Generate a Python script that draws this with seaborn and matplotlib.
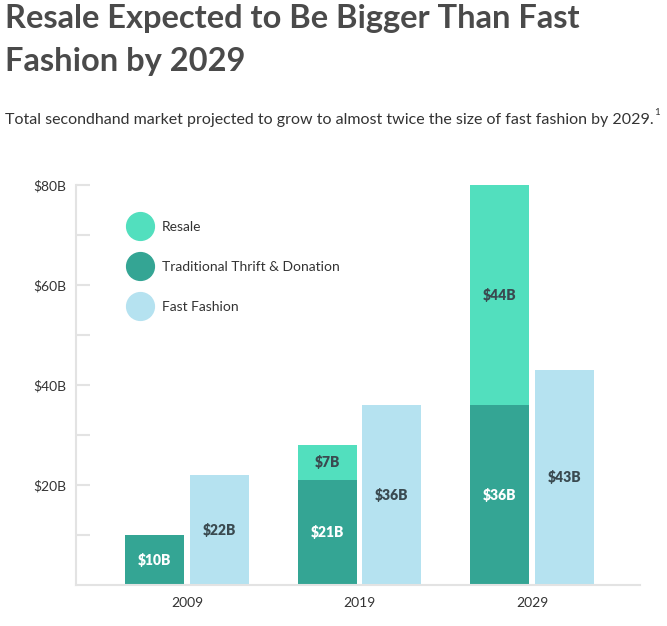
import numpy as np
import pandas as pd
import seaborn as sns
from matplotlib import pyplot as plt
from matplotlib.lines import Line2D
from matplotlib.ticker import FixedLocator, FuncFormatter

# values, in $B
years = ["2009", "2019", "2029"]
thrift = [10, 21, 36]
resale = [0, 7, 44]
fast_fashion = [22, 36, 43]
series_names = ["Resale", "Traditional Thrift & Donation", "Fast Fashion"]
series_colors = ["#52dfbe", "#34a594", "#b5e2f0"]

sns.set_style("white")
plt.rcParams["font.family"] = ["Lato", "DejaVu Sans"]

secondhand = [t + r for t, r in zip(thrift, resale)]
df_total = pd.DataFrame({
    "year": years * 2,
    "kind": ["secondhand"] * 3 + ["fast"] * 3,
    "value": secondhand + fast_fashion,
})
df_thrift = pd.DataFrame({
    "year": years * 2,
    "kind": ["secondhand"] * 3 + ["fast"] * 3,
    "value": thrift + fast_fashion,
})

fig = plt.figure(figsize=(6.67, 6.26), dpi=100)
ax = fig.add_axes([0.114, 0.0655, 0.8456, 0.639])

kw = dict(x="year", y="value", hue="kind", hue_order=["secondhand", "fast"],
          width=0.752, gap=0.09, saturation=1, errorbar=None, legend=False,
          linewidth=0, ax=ax)
# total secondhand (resale on top) first, thrift drawn over it
sns.barplot(data=df_total, palette=[series_colors[0], series_colors[2]], **kw)
sns.barplot(data=df_thrift, palette=[series_colors[1], series_colors[2]], **kw)

off = 0.188
dark = "#3a4a50"
for i in range(len(years)):
    ax.text(i - off, thrift[i] / 2, f"${thrift[i]}B", ha="center", va="center",
            color="white", fontsize=10, fontweight="heavy")
    if resale[i] > 0:
        ax.text(i - off, thrift[i] + resale[i] / 2, f"${resale[i]}B", ha="center",
                va="center", color=dark, fontsize=10, fontweight="heavy")
    ax.text(i + off, fast_fashion[i] / 2, f"${fast_fashion[i]}B", ha="center",
            va="center", color=dark, fontsize=10, fontweight="heavy")

ax.set_xlim(-0.643, 2.626)
ax.set_ylim(0, 80)
ax.set_xlabel("")
ax.set_ylabel("")
ax.yaxis.set_major_locator(FixedLocator([20, 40, 60, 80]))
ax.yaxis.set_minor_locator(FixedLocator([10, 30, 50, 70]))
ax.yaxis.set_major_formatter(FuncFormatter(lambda v, p: f"${v:.0f}B"))
ax.tick_params(axis="y", which="both", direction="in", length=10, width=1.5,
               color="#e3e3e3", labelsize=10, labelcolor="#333333", pad=7, left=True)
ax.tick_params(axis="x", length=0, pad=9, labelsize=10, labelcolor="#333333")
for s in ["top", "right"]:
    ax.spines[s].set_visible(False)
for s in ["left", "bottom"]:
    ax.spines[s].set_color("#e3e3e3")
    ax.spines[s].set_linewidth(1.5)

handles = [Line2D([0], [0], marker="o", ls="", markersize=20,
                  markerfacecolor=c, markeredgecolor=c) for c in series_colors]
ax.legend(handles, series_names, loc="upper left", bbox_to_anchor=(0.0887, 0.91),
          frameon=False, fontsize=10, labelspacing=2.0, handletextpad=0.57,
          borderpad=0, borderaxespad=0, labelcolor="#333333")

fig.text(0.008, 0.993, "Resale Expected to Be Bigger Than Fast\nFashion by 2029",
         ha="left", va="top", fontsize=23.5, fontweight="bold", color="#4a4a4a",
         linespacing=1.55)
fig.text(0.008, 0.809, "Total secondhand market projected to grow to almost twice the size of fast fashion by 2029.",
         ha="left", va="center", fontsize=11.5, color="#333333")
fig.text(0.981, 0.82, "1", ha="left", va="center", fontsize=7, color="#333333")

fig.savefig("out.png", dpi=100)
